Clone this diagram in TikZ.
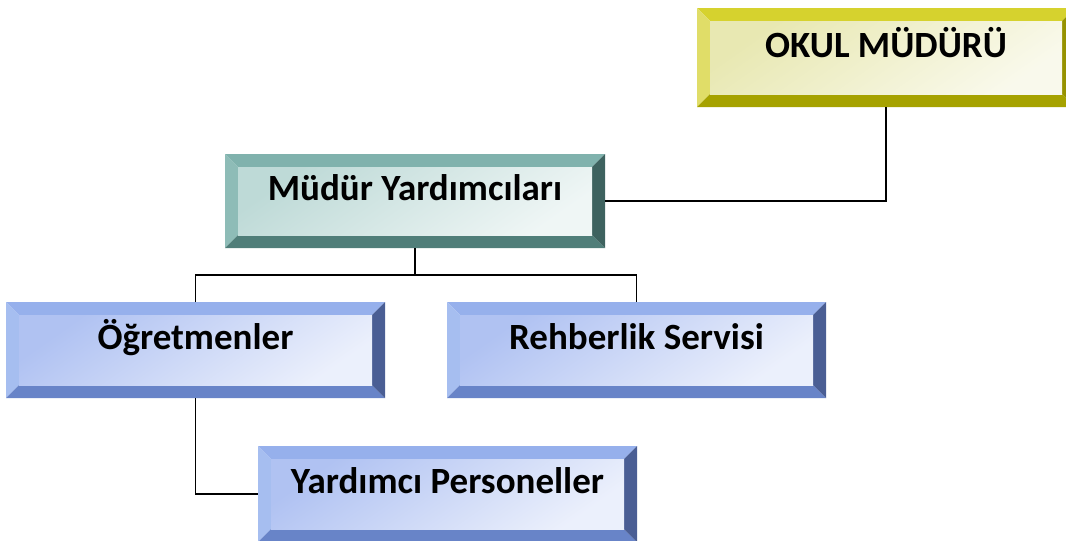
\documentclass[tikz,border=0pt]{standalone}
\usepackage{fontspec}
\setmainfont{Carlito}
\usetikzlibrary{positioning,calc}

\definecolor{oliveTop}{RGB}{214,210,46}
\definecolor{oliveLeft}{RGB}{224,221,104}
\definecolor{oliveBottom}{RGB}{166,162,0}
\definecolor{oliveRight}{RGB}{150,146,0}
\definecolor{oliveFace}{RGB}{232,232,178}
\definecolor{tealTop}{RGB}{128,178,173}
\definecolor{tealLeft}{RGB}{142,188,183}
\definecolor{tealBottom}{RGB}{80,126,121}
\definecolor{tealRight}{RGB}{62,98,95}
\definecolor{tealFace}{RGB}{190,218,215}
\definecolor{blueTop}{RGB}{150,176,236}
\definecolor{blueLeft}{RGB}{166,190,240}
\definecolor{blueBottom}{RGB}{104,132,200}
\definecolor{blueRight}{RGB}{74,94,148}
\definecolor{blueFace}{RGB}{176,194,242}

\tikzset{
  bevelbox/.style n args={5}{rectangle, inner sep=0pt, outer sep=0pt,
    minimum width=379pt, minimum height=96pt,
    font=\bfseries\fontsize{37}{40}\selectfont,
    text height=25pt, text depth=26pt,
    path picture={
      \coordinate (pA) at (path picture bounding box.north west);
      \coordinate (pB) at (path picture bounding box.north east);
      \coordinate (pC) at (path picture bounding box.south east);
      \coordinate (pD) at (path picture bounding box.south west);
      \coordinate (qA) at ([shift={(13pt,-13pt)}]pA);
      \coordinate (qB) at ([shift={(-13pt,-13pt)}]pB);
      \coordinate (qC) at ([shift={(-13pt,13pt)}]pC);
      \coordinate (qD) at ([shift={(13pt,13pt)}]pD);
      \fill[#1] (pA) -- (pB) -- (qB) -- (qA) -- cycle;
      \fill[#2] (pA) -- (qA) -- (qD) -- (pD) -- cycle;
      \fill[#3] (pD) -- (qD) -- (qC) -- (pC) -- cycle;
      \fill[#4] (pB) -- (pC) -- (qC) -- (qB) -- cycle;
      \shade[top color=#5, middle color=white, bottom color=#5!25, shading angle=35]
        (qA) rectangle (qC);
    }},
  chief/.style={bevelbox={oliveTop}{oliveLeft}{oliveBottom}{oliveRight}{oliveFace}},
  deputy/.style={bevelbox={tealTop}{tealLeft}{tealBottom}{tealRight}{tealFace}},
  unit/.style={bevelbox={blueTop}{blueLeft}{blueBottom}{blueRight}{blueFace}},
  link/.style={draw=black, line width=1.5pt}
}

\begin{document}
\begin{tikzpicture}[x=1pt, y=-1pt]
  \useasboundingbox (0,0) rectangle (1066,541);

  \node [chief, minimum height=99pt, minimum width=378pt] (okul) at (886,57.5) {OKUL MÜDÜRÜ};
  \node [deputy, minimum height=94pt, minimum width=380pt] (mudur) at (415,201) {Müdür Yardımcıları};
  \node [unit] (ogretmen) at (195.5,350) {Öğretmenler};
  \node [unit, right=62pt of ogretmen] (rehber) {Rehberlik Servisi};
  \node [unit] (yardimci) at (447.5,494) {Yardımcı Personeller};

  \coordinate (fork) at ($(mudur.south)!.5!(rehber.north)$);

  \draw [link] (okul.south) |- (mudur.east);
  \draw [link] (mudur.south) -- (mudur.south |- fork);
  \draw [link] (ogretmen.north) |- (fork) -| (rehber.north);
  \draw [link] (ogretmen.south) |- (yardimci.west);
\end{tikzpicture}
\end{document}
